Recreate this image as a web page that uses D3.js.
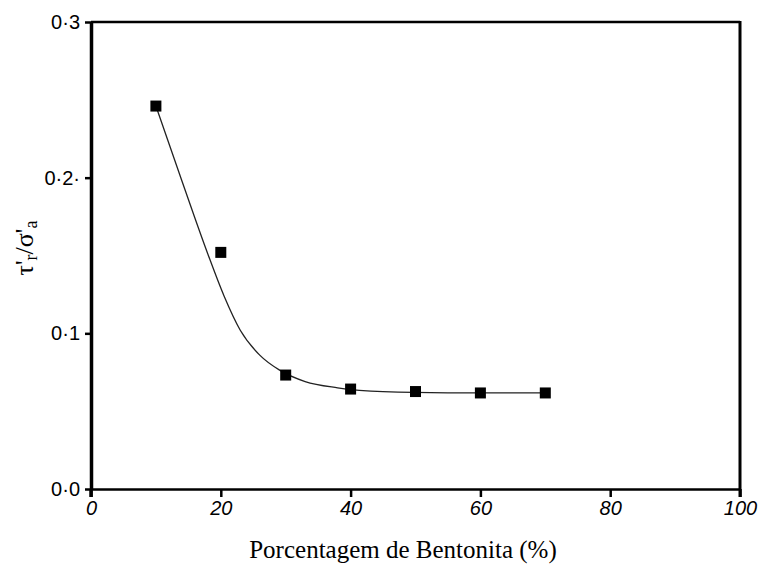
<!DOCTYPE html>
<html>
    <head>
        <meta charset="utf-8">
        <style>
            body { margin: 0; background: #fff; }
            .tick text { font-family: "Liberation Sans", Arial, sans-serif; }
        </style>
    </head>
    <body>
        <script src="https://cdnjs.cloudflare.com/ajax/libs/d3/7.8.5/d3.min.js"></script>
        <script>

            // measured points
            var bentonita = [10, 20, 30, 40, 50, 60, 70];
            var ratio = [0.246, 0.152, 0.0732, 0.0642, 0.0626, 0.0617, 0.0617];

            // fitted curve
            var curveX = [10, 14, 18, 20.5, 23, 26, 29, 33, 38, 45, 55, 70];
            var curveY = [0.246, 0.198, 0.151, 0.124, 0.102, 0.086, 0.0765, 0.069, 0.065, 0.0625, 0.0618, 0.0617];

            var xTicks = [0, 20, 40, 60, 80, 100];
            var yTicks = [0, 0.1, 0.2, 0.3];
            var yTickLabels = ["0·0", "0·1", "0·2·", "0·3"];

            var width = 758, height = 568;
            var plotLeft = 91, plotRight = 740, plotTop = 22, plotBottom = 489;

            var x = d3.scaleLinear().domain([0, 100]).range([plotLeft, plotRight]);
            var y = d3.scaleLinear().domain([0, 0.3]).range([plotBottom, plotTop]);

            var svg = d3.select("body")
                    .append("svg")
                    .attr("width", width)
                    .attr("height", height);

            // frame
            svg.append("line").attr("x1", x(0)).attr("x2", x(100)).attr("y1", y(0.3)).attr("y2", y(0.3))
                    .attr("stroke", "black").attr("stroke-width", 2.5);
            svg.append("line").attr("x1", x(100)).attr("x2", x(100)).attr("y1", y(0.3) - 1).attr("y2", y(0) + 8)
                    .attr("stroke", "black").attr("stroke-width", 3);

            // x axis
            var xAxis = svg.append("g")
                    .attr("transform", "translate(0," + plotBottom + ")")
                    .call(d3.axisBottom(x).tickValues(xTicks).tickSize(8).tickPadding(4).tickSizeOuter(0));
            xAxis.select(".domain").attr("stroke-width", 2.5);
            xAxis.selectAll(".tick line").attr("stroke-width", 2.5);
            xAxis.selectAll(".tick text")
                    .attr("font-size", 20)
                    .attr("font-style", "italic")
                    .attr("fill", "black");

            // y axis
            var yAxis = svg.append("g")
                    .attr("transform", "translate(" + plotLeft + ",0)")
                    .call(d3.axisLeft(y).tickValues(yTicks).tickSize(6).tickPadding(5).tickSizeOuter(0)
                            .tickFormat(function(d, i) { return yTickLabels[i]; }));
            yAxis.select(".domain").attr("stroke-width", 3.5);
            yAxis.selectAll(".tick line").attr("stroke-width", 2.5);
            yAxis.selectAll(".tick text")
                    .attr("font-size", 20)
                    .attr("fill", "black");
            // left axis goes a bit below the origin
            svg.append("line").attr("x1", plotLeft).attr("x2", plotLeft).attr("y1", plotBottom).attr("y2", plotBottom + 8)
                    .attr("stroke", "black").attr("stroke-width", 3.5);

            // curve
            var curvePts = curveX.map(function(d, i) { return [d, curveY[i]]; });
            var line = d3.line()
                    .x(function(d) { return x(d[0]); })
                    .y(function(d) { return y(d[1]); })
                    .curve(d3.curveMonotoneX);
            svg.append("path")
                    .datum(curvePts)
                    .attr("d", line)
                    .attr("fill", "none")
                    .attr("stroke", "#222")
                    .attr("stroke-width", 1.3);

            // points
            var sq = 11;
            svg.selectAll("rect.pt")
                    .data(bentonita)
                    .enter()
                    .append("rect")
                    .attr("class", "pt")
                    .attr("x", function(d) { return x(d) - sq / 2; })
                    .attr("y", function(d, i) { return y(ratio[i]) - sq / 2; })
                    .attr("width", sq)
                    .attr("height", sq)
                    .attr("fill", "black");

            // titles
            svg.append("text")
                    .attr("x", 403)
                    .attr("y", 558)
                    .attr("text-anchor", "middle")
                    .attr("font-family", "'Liberation Serif', 'Times New Roman', serif")
                    .attr("font-size", 25)
                    .text("Porcentagem de Bentonita (%)");

            var yt = svg.append("text")
                    .attr("transform", "translate(33,248) rotate(-90)")
                    .attr("text-anchor", "middle")
                    .attr("font-family", "'Liberation Serif', 'Times New Roman', serif")
                    .attr("font-size", 26);
            yt.append("tspan").text("τ'");
            yt.append("tspan").attr("font-size", 18).attr("dy", 4).text("r");
            yt.append("tspan").attr("dy", -4).text("/σ'");
            yt.append("tspan").attr("font-size", 18).attr("dy", 4).text("a");

        </script>
    </body>
</html>
